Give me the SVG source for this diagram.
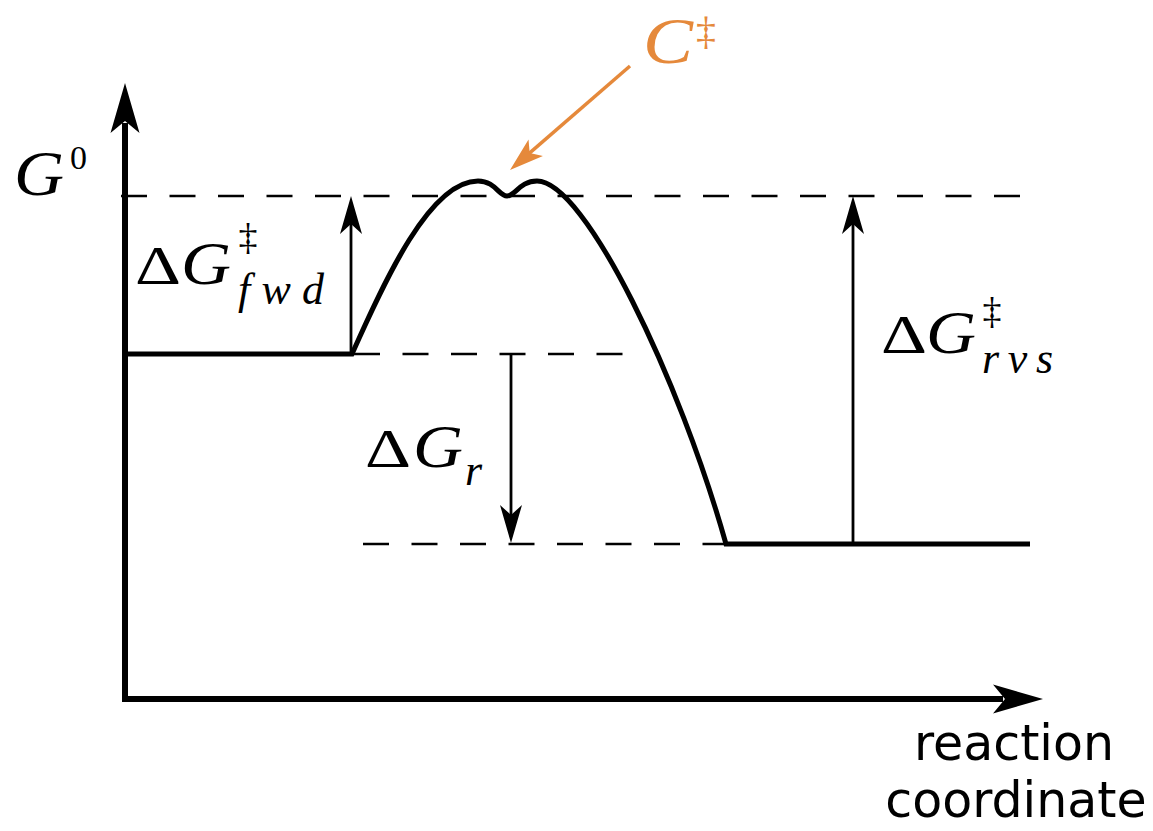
<svg xmlns="http://www.w3.org/2000/svg" width="1153" height="831" viewBox="0 0 1153 831">
<style>
.axis{stroke:#000;stroke-width:6;fill:none}
.curve{stroke:#000;stroke-width:5;fill:none;stroke-linejoin:miter}
.dash{stroke:#000;stroke-width:2.5;stroke-dasharray:26 22.5;fill:none}
.thin{stroke:#000;stroke-width:2.8;fill:none}
.orange{stroke:#e5893b;stroke-width:3.5;fill:none}
.m{font-family:"Liberation Serif",serif;font-style:italic;fill:#000}
.n{font-family:"Liberation Serif",serif;fill:#000}
.s{font-family:"DejaVu Sans",sans-serif;fill:#000}
.or{fill:#e5893b}
</style>
<defs>
<marker id="axh" markerUnits="userSpaceOnUse" viewBox="-12 -15 52 30" markerWidth="52" markerHeight="30" refX="0" refY="0" orient="auto"><path d="M40,0 L-10,-14.5 L2,0 L-10,14.5 Z" fill="#000"/></marker>
<marker id="th" markerUnits="userSpaceOnUse" viewBox="-25 -12 42 24" markerWidth="42" markerHeight="24" refX="0" refY="0" orient="auto"><path d="M15,0 L-23,-11 L-13,0 L-23,11 Z" fill="#000"/></marker>
<marker id="oh" markerUnits="userSpaceOnUse" viewBox="-24 -12 38 24" markerWidth="38" markerHeight="24" refX="0" refY="0" orient="auto"><path d="M12,0 L-22,-11 L-14,0 L-22,11 Z" fill="#e5893b"/></marker>
</defs>
<rect width="1153" height="831" fill="#fff"/>
<g id="guides">
<path class="dash" d="M121,196 H1020"/>
<path class="dash" d="M354,354 H623"/>
<path class="dash" d="M363,544 H726"/>
</g>
<g id="axes">
<path class="axis" d="M125,700 V123" marker-end="url(#axh)"/>
<path class="axis" d="M122,699 H1003" marker-end="url(#axh)"/>
</g>
<g id="energy-curve">
<path class="curve" d="M125,354 H352 C385,280 430,181 478,181 C495,181 499,196 507,196 C515,196 520,181 537,181 C585,181 680,380 726,544 H1030"/>
</g>
<g id="connectors">
<path class="thin" d="M351,354 V211" marker-end="url(#th)"/>
<path class="thin" d="M511,355 V528" marker-end="url(#th)"/>
<path class="thin" d="M853,544 V211" marker-end="url(#th)"/>
<path class="orange" d="M630,66 L519.1,162.1" marker-end="url(#oh)"/>
</g>
<g id="label-G0">
<text class="m" x="14" y="195" font-size="64" textLength="50" lengthAdjust="spacingAndGlyphs">G</text>
<text class="n" x="70" y="169" font-size="34">0</text>
</g>
<g id="label-fwd">
<text class="n" x="135" y="284" font-size="54" textLength="46" lengthAdjust="spacingAndGlyphs">Δ</text>
<text class="m" x="181" y="284" font-size="62" textLength="50" lengthAdjust="spacingAndGlyphs">G</text>
<text class="n" x="248" y="250" font-size="38" text-anchor="middle">‡</text>
<text class="m" x="238" y="304" font-size="44" textLength="86" lengthAdjust="spacing">fwd</text>
</g>
<g id="label-rvs">
<text class="n" x="881" y="353" font-size="54" textLength="46" lengthAdjust="spacingAndGlyphs">Δ</text>
<text class="m" x="926" y="353" font-size="62" textLength="50" lengthAdjust="spacingAndGlyphs">G</text>
<text class="n" x="992" y="324" font-size="38" text-anchor="middle">‡</text>
<text class="m" x="982" y="373" font-size="44" textLength="71" lengthAdjust="spacing">rvs</text>
</g>
<g id="label-r">
<text class="n" x="365" y="467" font-size="54" textLength="46" lengthAdjust="spacingAndGlyphs">Δ</text>
<text class="m" x="413" y="467" font-size="62" textLength="50" lengthAdjust="spacingAndGlyphs">G</text>
<text class="m" x="465" y="485" font-size="44">r</text>
</g>
<g id="label-C">
<text class="m or" x="643" y="63" font-size="66" textLength="50" lengthAdjust="spacingAndGlyphs">C</text>
<text class="n or" x="706" y="44" font-size="40" text-anchor="middle">‡</text>
</g>
<g id="label-axis">
<text class="s" x="1014" y="760" font-size="49" text-anchor="middle">reaction</text>
<text class="s" x="1016" y="817" font-size="49" text-anchor="middle">coordinate</text>
</g>
</svg>
